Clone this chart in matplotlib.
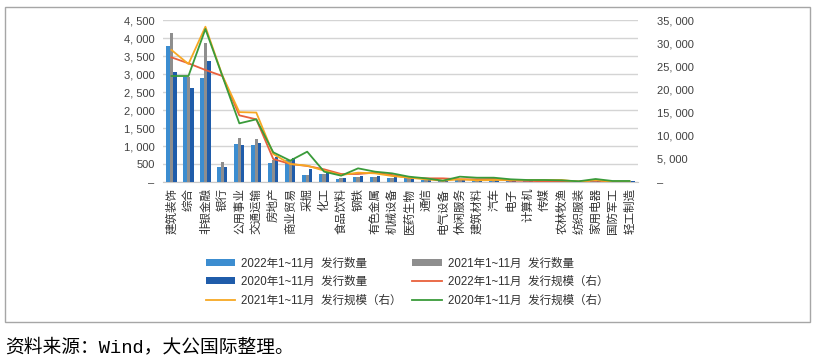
import matplotlib
matplotlib.use("Agg")
import matplotlib.pyplot as plt
import numpy as np
from matplotlib.patches import Rectangle, Patch
from matplotlib.lines import Line2D
from matplotlib.ticker import FuncFormatter, MultipleLocator

categories = ["建筑装饰", "综合", "非银金融", "银行", "公用事业", "交通运输", "房地产", "商业贸易",
              "采掘", "化工", "食品饮料", "钢铁", "有色金属", "机械设备", "医药生物", "通信",
              "电气设备", "休闲服务", "建筑材料", "汽车", "电子", "计算机", "传媒", "农林牧渔",
              "纺织服装", "家用电器", "国防军工", "轻工制造"]

count_2022 = [3780, 2920, 2880, 430, 1055, 1030, 540, 610, 200, 215, 85, 130, 135, 100,
              120, 56, 40, 56, 56, 50, 45, 40, 30, 35, 30, 35, 30, 40]
count_2021 = [4150, 2920, 3850, 550, 1210, 1185, 620, 610, 190, 230, 100, 150, 150, 110,
              125, 60, 45, 50, 60, 55, 50, 45, 35, 40, 35, 40, 30, 40]
count_2020 = [3065, 2600, 3370, 420, 1040, 1075, 700, 680, 360, 265, 100, 176, 176, 140,
              120, 74, 45, 56, 56, 55, 45, 45, 35, 35, 35, 35, 30, 35]

scale_2022 = [26930, 25640, 24200, 22900, 14400, 13540, 4970, 3890, 3460, 2740, 1730, 1730,
              2020, 1510, 930, 790, 790, 580, 580, 650, 290, 250, 150, 150, 150, 290, 80, 60]
scale_2021 = [28520, 25490, 33550, 23000, 15100, 15000, 6050, 3890, 3530, 2450, 1510, 2020,
              1870, 1300, 930, 580, 290, 580, 360, 430, 430, 430, 430, 430, 50, 430, 80, 60]
scale_2020 = [22900, 22900, 33050, 22900, 12670, 13540, 6410, 4610, 6550, 2230, 1370, 2950,
              2230, 1870, 1150, 790, 290, 1150, 930, 930, 580, 430, 430, 360, 150, 650, 220, 220]

legend_labels = ["2022年1~11月  发行数量", "2021年1~11月  发行数量", "2020年1~11月  发行数量",
                 "2022年1~11月  发行规模（右）", "2021年1~11月  发行规模（右）", "2020年1~11月  发行规模（右）"]
source_text = "资料来源：Wind，大公国际整理。"

C22 = "#3C8DD0"
C21 = "#8E8E8E"
C20 = "#1F5CAA"
L22 = "#E8603C"
L21 = "#F7A823"
L20 = "#3A9B3A"

LAT = ["Liberation Sans", "Noto Sans CJK SC"]

fig = plt.figure(figsize=(8.19, 3.64), dpi=100)
W, H = 819, 364
ax = fig.add_axes([163 / W, 1 - 182 / H, (638 - 163) / W, (182 - 20) / H])
ax2 = ax.twinx()

x = np.arange(len(categories))
bw = 0.2
ax.bar(x - bw, count_2022, bw, color=C22, zorder=3)
ax.bar(x, count_2021, bw, color=C21, zorder=3)
ax.bar(x + bw, count_2020, bw, color=C20, zorder=3)

ax2.plot(x, scale_2022, color=L22, lw=1.3, zorder=4)
ax2.plot(x, scale_2021, color=L21, lw=1.3, zorder=4)
ax2.plot(x, scale_2020, color=L20, lw=1.3, zorder=4)

ax.set_xlim(-0.5, len(categories) - 0.5)
ax.set_ylim(0, 4500)
ax2.set_ylim(0, 35000)
ax.yaxis.set_major_locator(MultipleLocator(500))
ax2.yaxis.set_major_locator(MultipleLocator(5000))

def fmt(v, pos):
    if abs(v) < 1e-6:
        return "–"
    return f"{int(round(v)):,}".replace(",", ", ")

ax.yaxis.set_major_formatter(FuncFormatter(fmt))
ax2.yaxis.set_major_formatter(FuncFormatter(fmt))

ax.grid(axis="y", color="#D4D4D4", lw=1.0, zorder=0)
ax.set_axisbelow(True)
for a in (ax, ax2):
    for s in a.spines.values():
        s.set_visible(False)
ax.spines["bottom"].set_visible(True)
ax.spines["bottom"].set_color("#C8C8C8")

ax.tick_params(axis="y", length=0, pad=6, labelsize=8, labelcolor="#404040")
ax2.tick_params(axis="y", length=0, pad=14, labelsize=8, labelcolor="#404040")
for t in ax.get_yticklabels() + ax2.get_yticklabels():
    t.set_fontfamily("Liberation Sans")

ax.set_xticks(x)
ax.set_xticklabels(categories, rotation=90, fontsize=8.3, family=["Noto Sans CJK SC"],
                   color="#303030", va="top", ha="center")
ax.tick_params(axis="x", length=0, pad=4)

# legend
handles = [
    Patch(facecolor=C22, edgecolor="none"),
    Patch(facecolor=C20, edgecolor="none"),
    Line2D([], [], color=L21, lw=1.3),
    Patch(facecolor=C21, edgecolor="none"),
    Line2D([], [], color=L22, lw=1.3),
    Line2D([], [], color=L20, lw=1.3),
]
labels = [legend_labels[0], legend_labels[2], legend_labels[4],
          legend_labels[1], legend_labels[3], legend_labels[5]]
leg = fig.legend(handles, labels, ncol=2, loc="center", bbox_to_anchor=(407 / W, 1 - 282 / H),
                 frameon=False, prop={"family": LAT, "size": 8.3}, handlelength=2.6,
                 handleheight=0.55, handletextpad=0.5, columnspacing=0.9, labelspacing=0.55)
for t in leg.get_texts():
    t.set_color("#303030")

# border box
fig.patches.append(Rectangle((5 / W, 1 - 322 / H), (810 - 5) / W, (322 - 7) / H,
                             transform=fig.transFigure, fill=False, edgecolor="#A6A6A6", lw=1.0))

fig.text(5 / W, 1 - 347 / H, source_text, ha="left", va="center", fontsize=13.5,
         family=["Liberation Mono", "Noto Sans CJK SC"], color="#000000")

fig.savefig("out.png", dpi=100)
